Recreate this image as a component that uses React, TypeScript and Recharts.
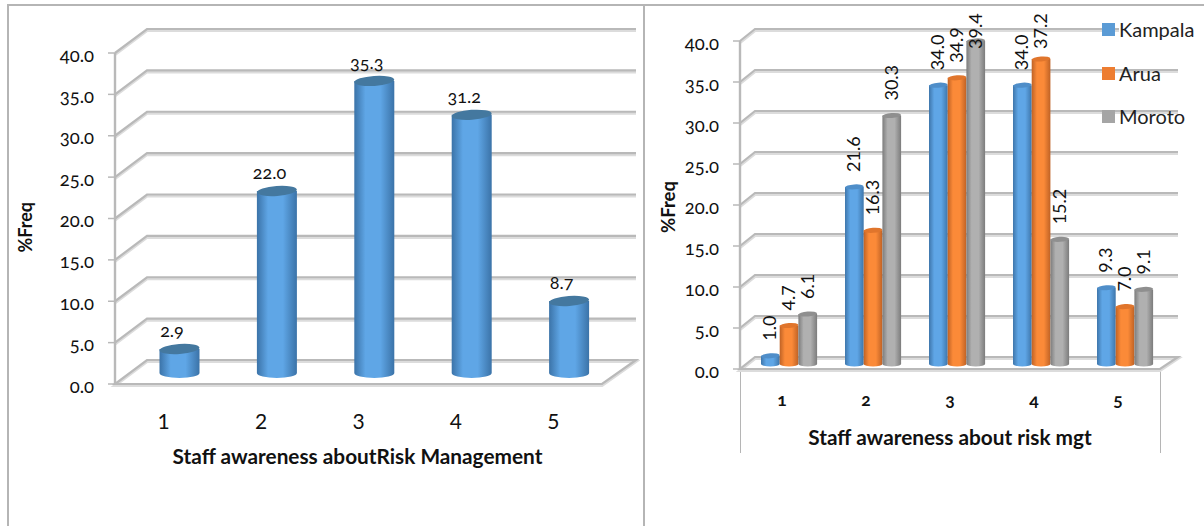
import React from 'react';
import { BarChart, Bar, XAxis, YAxis, CartesianGrid, LabelList } from 'recharts';

const categories = ['1', '2', '3', '4', '5'];
const overallFreq = [2.9, 22.0, 35.3, 31.2, 8.7];
const kampalaFreq = [1.0, 21.6, 34.0, 34.0, 9.3];
const aruaFreq = [4.7, 16.3, 34.9, 37.2, 7.0];
const morotoFreq = [6.1, 30.3, 39.4, 15.2, 9.1];
const yTicks = [0, 5, 10, 15, 20, 25, 30, 35, 40];

const overallData = categories.map((name, i) => ({ name, freq: overallFreq[i] }));
const siteData = categories.map((name, i) => ({
  name,
  Kampala: kampalaFreq[i],
  Arua: aruaFreq[i],
  Moroto: morotoFreq[i],
}));

const sites = [
  { key: 'Kampala', legend: '#5b9bd5', top: '#4f8ec9', edge: '#3e76ab', mid: '#5fa6e6' },
  { key: 'Arua', legend: '#ed7d31', top: '#e0752c', edge: '#bf6225', mid: '#fb8a38' },
  { key: 'Moroto', legend: '#a5a5a5', top: '#8f8f8f', edge: '#7c7c7c', mid: '#b0b0b0' },
];

const GRID_COLOR = '#b9b9b9';
const TEXT_COLOR = '#111';

// Gridlines run from the front axis up a side wall, then along the back wall.
const wallLines = (depthX: number, depthY: number, backRight: number) => (props: any) => {
  const { x1, x2, y1, index } = props;
  const isFloor = index === 0;
  const d = isFloor
    ? `M${x1},${y1}L${x2},${y1}L${backRight},${y1 - depthY}L${x1 + depthX},${y1 - depthY}Z`
    : `M${x1},${y1}L${x1 + depthX},${y1 - depthY}L${backRight},${y1 - depthY}`;
  return (
    <g key={index}>
      {/* faint drop shadow under each line */}
      <path d={d} fill="none" stroke="#dcdcdc" strokeWidth={3} transform="translate(0 1.5)" />
      <path d={d} fill="none" stroke={GRID_COLOR} strokeWidth={2.2} />
    </g>
  );
};

const Cylinder = (props: any) => {
  const { x, y, width, height, gradient, top, ry, dx, dy } = props;
  const left = x + dx;
  const cx = left + width / 2;
  const yTop = y + dy;
  const yBase = yTop + height;
  const body = `M${left},${yTop}L${left},${yBase}A${width / 2},${ry} 0 0 0 ${left + width},${yBase}L${left + width},${yTop}Z`;
  return (
    <g>
      <path d={body} fill={`url(#${gradient})`} />
      <ellipse cx={cx} cy={yTop} rx={width / 2} ry={ry} fill={top} transform={`rotate(-4 ${cx} ${yTop})`} />
    </g>
  );
};

const OverallLabel = (props: any) => {
  const { x, y, width, value } = props;
  return (
    <text x={x + width / 2 + 8} y={y - 23} textAnchor="middle" fontSize={18} fill={TEXT_COLOR}>
      {value.toFixed(1)}
    </text>
  );
};

const SiteLabel = (props: any) => {
  const { x, y, width, value } = props;
  const cx = x + width / 2 + 7;
  // Tall bars push their labels against the top of the chart
  const anchorY = Math.max(y - 20, 49);
  return (
    <text
      x={cx + 6}
      y={anchorY}
      fontSize={18}
      fill={TEXT_COLOR}
      style={{ fontVariantNumeric: 'lining-nums' }}
      transform={`rotate(-90 ${cx + 6} ${anchorY})`}
    >
      {value.toFixed(1)}
    </text>
  );
};

const SiteLegend = () => (
  <div style={{ position: 'absolute', left: 1102, top: 17 }}>
    {sites.map((s) => (
      <div
        key={s.key}
        style={{ height: 43.5, display: 'flex', alignItems: 'flex-start', fontSize: 20, color: '#222' }}
      >
        <span style={{ width: 13, height: 13, background: s.legend, marginTop: 6, marginRight: 4 }} />
        <span style={{ background: s.key === 'Kampala' ? '#fff' : 'transparent', lineHeight: '25px' }}>{s.key}</span>
      </div>
    ))}
  </div>
);

const gradientStops = (id: string, edge: string, mid: string) => (
  <linearGradient key={id} id={id} x1="0" y1="0" x2="1" y2="0">
    <stop offset="0%" stopColor={edge} />
    <stop offset="28%" stopColor={mid} />
    <stop offset="65%" stopColor={mid} />
    <stop offset="100%" stopColor={edge} />
  </linearGradient>
);

const formatTick = (v: number) => v.toFixed(1);

const frameLine = (left: number, top: number, width: number, height: number) => ({
  position: 'absolute' as const,
  left,
  top,
  width,
  height,
  background: '#b5b5b5',
});

export default function App() {
  return (
    <div
      style={{
        position: 'absolute',
        left: 0,
        top: 0,
        width: 1204,
        height: 526,
        background: '#fff',
        overflow: 'hidden',
        fontFamily: 'Lato, "Open Sans", sans-serif',
        fontVariantNumeric: 'oldstyle-nums',
      }}
    >
      <div style={frameLine(7, 4, 1197, 2)} />
      <div style={frameLine(7, 4, 2, 522)} />
      <div style={frameLine(643, 4, 2, 522)} />
      <div style={frameLine(740, 369, 1, 84)} />
      <div style={frameLine(1160, 369, 1, 84)} />

      <div style={{ position: 'absolute', left: 0, top: 0 }}>
        <BarChart
          width={640}
          height={526}
          data={overallData}
          margin={{ top: 53, right: 38, bottom: 0, left: 0 }}
          barSize={40}
        >
          <defs>{gradientStops('overallBody', '#3b73a8', '#5fa6e6')}</defs>
          <CartesianGrid vertical={false} horizontal={wallLines(32, 24, 636)} />
          <XAxis
            dataKey="name"
            axisLine={false}
            tickLine={false}
            height={142}
            tickMargin={24}
            tick={{ fontSize: 21, fill: TEXT_COLOR, style: { fontVariantNumeric: 'lining-nums' } }}
            label={{ value: 'Staff awareness aboutRisk Management', position: 'insideTop', dx: -1, dy: 60, fontSize: 20.8, fontWeight: 700, fill: TEXT_COLOR }}
          />
          <YAxis
            width={115}
            domain={[0, 40]}
            ticks={yTicks}
            tickFormatter={formatTick}
            axisLine={{ stroke: GRID_COLOR, strokeWidth: 2.4 }}
            tickLine={{ stroke: GRID_COLOR, strokeWidth: 1.5 }}
            tickSize={7}
            tickMargin={14}
            tick={{ fontSize: 18.5, fill: TEXT_COLOR, dy: 2 }}
            label={{ value: '%Freq', angle: -90, position: 'insideLeft', dx: 21, dy: 34, fontSize: 18, fontWeight: 700, fill: TEXT_COLOR }}
          />
          <Bar
            dataKey="freq"
            isAnimationActive={false}
            shape={(p: any) => <Cylinder {...p} gradient="overallBody" top="#44789f" ry={5} dx={15.5} dy={-11} />}
          >
            <LabelList dataKey="freq" content={OverallLabel} />
          </Bar>
        </BarChart>
      </div>

      <div style={{ position: 'absolute', left: 0, top: 0 }}>
        <BarChart
          width={1204}
          height={526}
          data={siteData}
          margin={{ top: 41, right: 44, bottom: 0, left: 645 }}
          barSize={18.7}
          barGap={0}
          style={{ position: 'absolute' }}
        >
          <defs>{sites.map((s) => gradientStops(`site${s.key}`, s.edge, s.mid))}</defs>
          <CartesianGrid vertical={false} horizontal={wallLines(15, 12, 1178)} />
          <XAxis
            dataKey="name"
            axisLine={false}
            tickLine={false}
            height={157}
            tickMargin={19}
            tick={{ fontSize: 17.5, fontWeight: 700, fill: TEXT_COLOR }}
            label={{ value: 'Staff awareness about risk mgt', position: 'insideTop', dy: 56, fontSize: 20.8, fontWeight: 700, fill: TEXT_COLOR }}
          />
          <YAxis
            width={95}
            domain={[0, 40]}
            ticks={yTicks}
            tickFormatter={formatTick}
            axisLine={{ stroke: GRID_COLOR, strokeWidth: 2.4 }}
            tickLine={{ stroke: GRID_COLOR, strokeWidth: 1.5 }}
            tickSize={7}
            tickMargin={14}
            tick={{ fontSize: 18.5, fill: TEXT_COLOR, dy: 2 }}
            label={{ value: '%Freq', angle: -90, position: 'insideLeft', dx: 18, dy: 28, fontSize: 18.5, fontWeight: 700, fill: TEXT_COLOR }}
          />
          {sites.map((s) => (
            <Bar
              key={s.key}
              dataKey={s.key}
              isAnimationActive={false}
              shape={(p: any) => <Cylinder {...p} gradient={`site${s.key}`} top={s.top} ry={2.5} dx={7} dy={-5} />}
            >
              <LabelList dataKey={s.key} content={SiteLabel} />
            </Bar>
          ))}
        </BarChart>
      </div>

      <SiteLegend />
    </div>
  );
}
